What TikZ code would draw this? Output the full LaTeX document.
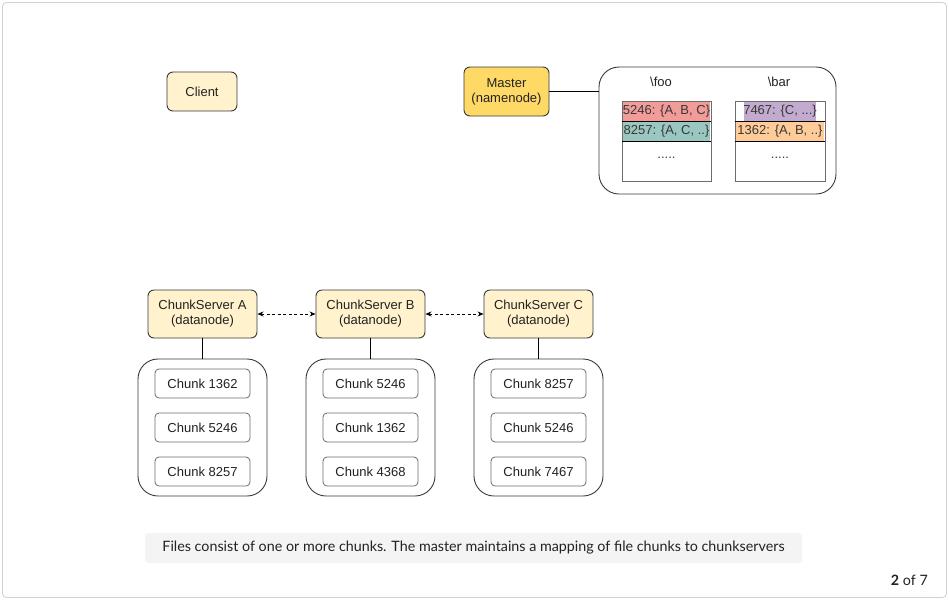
\documentclass[tikz,border=0pt]{standalone}
\usepackage{fontspec}
\setmainfont{Liberation Sans}
\newfontfamily\capfont{Lato}
\usetikzlibrary{arrows.meta}
\definecolor{lightyel}{HTML}{FFF2CC}
\definecolor{darkyel}{HTML}{FFD966}
\definecolor{edgegray}{HTML}{36393D}
\definecolor{redrow}{HTML}{F19C99}
\definecolor{tealrow}{HTML}{9AC7BF}
\definecolor{purprow}{HTML}{C3ABD0}
\definecolor{orrow}{HTML}{FFCC99}
\definecolor{capbg}{HTML}{F4F4F4}
\definecolor{framegray}{HTML}{D0D0D0}
\definecolor{txt}{HTML}{222222}
\tikzset{
  base/.style={font=\fontsize{13}{15}\selectfont, text=txt, align=center, inner sep=0pt},
  yelbox/.style={base, draw=edgegray, fill=lightyel, rounded corners=6pt, line width=0.9pt},
  masterbox/.style={base, draw=edgegray, fill=darkyel, rounded corners=6pt, line width=0.9pt},
  groupbox/.style={draw=edgegray, rounded corners=20pt, line width=0.9pt},
  chunkbox/.style={base, draw=gray!85!black, rounded corners=4pt, line width=0.8pt, minimum width=95pt, minimum height=29pt},
  tablecell/.style={draw=gray!85!black, line width=0.8pt},
  rowtext/.style={base, text=txt!90!white},
  link/.style={line width=0.8pt, draw=black},
  dlink/.style={line width=0.8pt, draw=black, dashed, dash pattern=on 3pt off 2.5pt, {Stealth[length=6pt,width=5pt]}-{Stealth[length=6pt,width=5pt]}},
}
\begin{document}
\begin{tikzpicture}[x=1pt,y=-1pt]
\useasboundingbox (0,0) rectangle (949,600);
\fill[white] (0,0) rectangle (949,600);
\draw[framegray, line width=0.8pt, rounded corners=4pt] (2.5,2.5) rectangle (946.5,597.5);

% Client and master
\node[yelbox, minimum width=70pt, minimum height=39pt] (client) at (202,91.5) {Client};
\node[masterbox, minimum width=85pt, minimum height=49pt] (master) at (506.5,91.5) {Master\\(namenode)};

% namespace box
\node[groupbox, minimum width=237pt, minimum height=127pt, inner sep=0pt] (ns) at (717.5,130.5) {};
\draw[link] (master.east) -- (ns.west |- master.east);
\node[base] (foo) at (661,82) {\textbackslash foo};
\node[base] (bar) at (779,82) {\textbackslash bar};

% left table
\fill[redrow] (623,102) rectangle (710,120.5);
\fill[tealrow] (623,122) rectangle (710,140.5);
\draw[tablecell] (622,101) rectangle (711,181);
\draw[link] (622,121) -- (711,121);
\draw[link] (622,141) -- (711,141);
\node[rowtext] (r1) at (666.5,111) {5246: \{A, B, C\}};
\node[rowtext] (r2) at (666.5,131) {8257: \{A, C, ..\}};
\node[rowtext] (r3) at (666.5,158) {.....};

% right table
\fill[purprow] (744,102) rectangle (816,120.5);
\fill[orrow] (736,122) rectangle (824,140.5);
\draw[tablecell] (735,101) rectangle (825,181);
\draw[link] (735,121) -- (825,121);
\draw[link] (735,141) -- (825,141);
\node[rowtext] (s1) at (780,111) {7467: \{C, ...\}};
\node[rowtext] (s2) at (780,131) {1362: \{A, B, ..\}};
\node[rowtext] (s3) at (780,158) {.....};

% chunk servers
\foreach \n/\cx/\ca/\cb/\cc in {A/202.5/1362/5246/8257, B/370.5/5246/1362/4368, C/538.5/8257/5246/7467}{
  \node[yelbox, minimum width=109pt, minimum height=48pt] (cs\n) at (\cx,314) {ChunkServer \n\\(datanode)};
  \node[groupbox, minimum width=129pt, minimum height=137pt, inner sep=0pt] (g\n) at (\cx,427.5) {};
  \draw[link] (cs\n.south) -- (g\n.north);
  \node[chunkbox] (k\n1) at (\cx,383.5) {Chunk \ca};
  \node[chunkbox] (k\n2) at (\cx,427.5) {Chunk \cb};
  \node[chunkbox] (k\n3) at (\cx,471.5) {Chunk \cc};
}
\draw[dlink] (csA.east) -- (csB.west);
\draw[dlink] (csB.east) -- (csC.west);

% caption
\node[fill=capbg, rounded corners=3pt, minimum width=657pt, minimum height=30pt, inner sep=0pt, font=\capfont\fontsize{14.3}{16}\selectfont, text=txt] (cap) at (473.5,548) {Files consist of one or more chunks. The master maintains a mapping of file chunks to chunkservers};
\node[anchor=east, inner sep=0pt, font=\capfont\fontsize{14.3}{16}\selectfont, text=txt] (page) at (928,580) {\textbf{2} of 7};
\end{tikzpicture}
\end{document}
